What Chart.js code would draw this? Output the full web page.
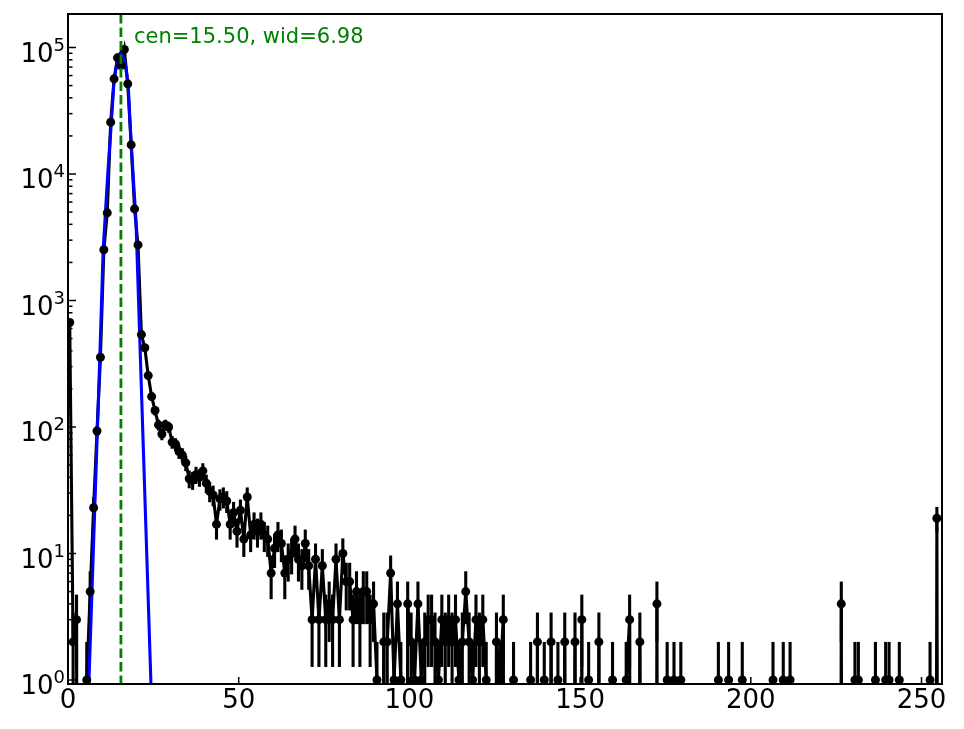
<!DOCTYPE html>
<html>
<head>
<meta charset="utf-8">
<script src="https://cdn.jsdelivr.net/npm/chart.js@4.4.1/dist/chart.umd.min.js"></script>
<style>
  html, body { margin: 0; padding: 0; background: #fff; }
  #wrap { width: 964px; height: 729px; position: relative; }
</style>
</head>
<body>
<div id="wrap"><canvas id="histChart"></canvas></div>
<script>
// Comptages par canal (bins 0..255)
const counts = [
  670, 2, 3, 0, 0, 1, 5, 23, 93, 356, 2520, 4930, 25700, 56500, 82800, 72100,
  96400, 51600, 17000, 5300, 2750, 538, 423, 255, 174, 135, 104, 88, 104, 100, 76, 73,
  64, 60, 52, 39, 38, 42, 40, 45, 36, 31, 29, 17, 27, 28, 26, 17,
  21, 15, 22, 13, 28, 14, 17, 15, 17, 14, 13, 7, 11, 14, 12, 7,
  9, 10, 13, 9, 8, 12, 8, 3, 9, 3, 8, 3, 4, 3, 9, 3,
  10, 6, 6, 3, 5, 3, 5, 5, 3, 4, 1, 0, 2, 2, 7, 1,
  4, 1, 0, 4, 2, 1, 4, 1, 2, 3, 3, 2, 1, 3, 2, 3,
  2, 3, 1, 2, 5, 2, 1, 3, 2, 3, 1, 0, 0, 2, 1, 3,
  0, 0, 1, 0, 0, 0, 0, 1, 0, 2, 0, 1, 0, 2, 0, 1,
  0, 2, 0, 0, 2, 0, 3, 0, 1, 0, 0, 2, 0, 0, 0, 1,
  0, 0, 0, 1, 3, 0, 0, 2, 0, 0, 0, 0, 4, 0, 0, 1,
  0, 1, 0, 1, 0, 0, 0, 0, 0, 0, 0, 0, 0, 0, 1, 0,
  0, 1, 0, 0, 0, 1, 0, 0, 0, 0, 0, 0, 0, 0, 1, 0,
  0, 1, 0, 1, 0, 0, 0, 0, 0, 0, 0, 0, 0, 0, 0, 0,
  0, 0, 4, 0, 0, 0, 1, 1, 0, 0, 0, 0, 1, 0, 0, 1,
  1, 0, 0, 1, 0, 0, 0, 0, 0, 0, 0, 0, 1, 0, 19, 0
];
// centre de chaque bin (bord gauche + 0.5)
const binCenters = counts.map((c, i) => i + 0.5);

// Courbe d'ajustement (bleue)
const fitX = [6.1, 8.6, 9.3, 10.3, 11.7, 12.7, 13.5, 14.6, 15.5, 16.5, 17.6, 18.5, 19.9, 24.3];
const fitY = [0.93, 93, 340, 2500, 10600, 25600, 55000, 84000, 92000, 82000, 52000, 17500, 4330, 0.93];

const fitCen = 15.50;
const fitWid = 6.98;

const xTicks = [0, 50, 100, 150, 200, 250];
const yDecades = [0, 1, 2, 3, 4, 5];

const FONT = '"DejaVu Sans", sans-serif';
const LW = 3.1;

// log : les zéros sont renvoyés très bas (comme le "clip" de matplotlib)
const countPoints = counts.map((c, i) => ({ x: binCenters[i], y: c > 0 ? c : 1e-12 }));

// Barres d'erreur, cadre, graduations et étiquettes
const decor = {
    id: 'decor',
    beforeDatasetDraw(chart, args) {
        if (args.index !== 2) return;
        const { ctx, chartArea: a, scales: { x, y } } = chart;
        ctx.save();
        ctx.beginPath();
        ctx.rect(a.left, a.top, a.right - a.left, a.bottom - a.top);
        ctx.clip();
        ctx.strokeStyle = '#000';
        ctx.lineWidth = LW;
        counts.forEach((c, i) => {
            if (c <= 0) return;
            const err = Math.sqrt(c);
            const px = x.getPixelForValue(binCenters[i]);
            const top = y.getPixelForValue(c + err);
            const bot = c - err > 0 ? y.getPixelForValue(c - err) : a.bottom + 10;
            ctx.beginPath();
            ctx.moveTo(px, bot);
            ctx.lineTo(px, top);
            ctx.stroke();
        });
        ctx.restore();
    },
    afterDatasetsDraw(chart) {
        const { ctx, chartArea: a, scales: { x } } = chart;
        const cx = x.getPixelForValue(fitCen);
        ctx.save();
        ctx.strokeStyle = '#008000';
        ctx.lineWidth = 2.8;
        ctx.setLineDash([9.5, 4]);
        ctx.beginPath();
        ctx.moveTo(cx, a.top);
        ctx.lineTo(cx, a.bottom);
        ctx.stroke();
        ctx.setLineDash([]);
        ctx.fillStyle = '#008000';
        ctx.font = '21px ' + FONT;
        ctx.textBaseline = 'alphabetic';
        ctx.textAlign = 'left';
        ctx.fillText('cen=' + fitCen.toFixed(2) + ', wid=' + fitWid.toFixed(2), a.left + 66, 43);
        ctx.restore();
    },
    afterDraw(chart) {
        const { ctx, chartArea: a, scales: { x, y } } = chart;
        ctx.save();
        ctx.strokeStyle = '#000';
        ctx.lineWidth = 1.5;
        // graduations x (vers l'intérieur)
        xTicks.forEach(v => {
            const px = x.getPixelForValue(v);
            ctx.beginPath();
            ctx.moveTo(px, a.bottom);
            ctx.lineTo(px, a.bottom - 7);
            ctx.stroke();
        });
        // graduations y majeures et mineures
        yDecades.forEach(e => {
            for (let m = 1; m <= 9; m++) {
                const v = m * Math.pow(10, e);
                if (v < y.min || v > y.max) continue;
                const py = y.getPixelForValue(v);
                ctx.beginPath();
                ctx.moveTo(a.left, py);
                ctx.lineTo(a.left + (m === 1 ? 8 : 4.5), py);
                ctx.stroke();
            }
        });
        // cadre
        ctx.lineWidth = 2;
        ctx.strokeRect(a.left, a.top, a.right - a.left, a.bottom - a.top);
        // étiquettes y : 10^e
        ctx.fillStyle = '#000';
        ctx.textAlign = 'left';
        ctx.textBaseline = 'alphabetic';
        yDecades.forEach(e => {
            const py = y.getPixelForValue(Math.pow(10, e));
            ctx.font = '18px ' + FONT;
            const sup = String(e);
            const ws = ctx.measureText(sup).width;
            ctx.fillText(sup, 65 - ws, py + 3);
            ctx.font = '26px ' + FONT;
            const wb = ctx.measureText('10').width;
            ctx.fillText('10', 65 - ws - wb, py + 14);
        });
        ctx.restore();
    }
};

new Chart(document.getElementById('histChart'), {
    type: 'line',
    data: {
        datasets: [{
            // marqueurs (dessinés en dernier)
            label: 'counts',
            data: countPoints,
            showLine: false,
            pointRadius: ctx => (counts[ctx.dataIndex] > 0 ? 4.5 : 0),
            pointBorderWidth: 0,
            pointBackgroundColor: '#000'
        }, {
            label: 'fit',
            data: fitX.map((v, i) => ({ x: v, y: fitY[i] })),
            borderColor: '#0000ff',
            borderWidth: LW,
            pointRadius: 0,
            tension: 0
        }, {
            // ligne noire reliant les bins
            label: 'counts line',
            data: countPoints,
            borderColor: '#000',
            borderWidth: LW,
            pointRadius: 0,
            tension: 0
        }]
    },
    options: {
        responsive: true,
        maintainAspectRatio: false,
        animation: false,
        layout: { padding: { top: 14, right: 22, left: 0, bottom: 0 } },
        plugins: { legend: { display: false }, tooltip: { enabled: false } },
        scales: {
            x: {
                type: 'linear',
                min: 0,
                max: 256,
                grid: { display: false, drawTicks: false },
                border: { display: false },
                afterBuildTicks: s => { s.ticks = xTicks.map(v => ({ value: v })); },
                ticks: {
                    autoSkip: false,
                    maxRotation: 0,
                    padding: 2,
                    color: '#000',
                    font: { family: FONT, size: 26 }
                },
                afterFit: s => { s.height = 45; }
            },
            y: {
                type: 'logarithmic',
                min: 0.93,
                max: 1.84e5,
                grid: { display: false, drawTicks: false },
                border: { display: false },
                ticks: { display: false },
                afterFit: s => { s.width = 68; }
            }
        }
    },
    plugins: [decor]
});
</script>
</body>
</html>
